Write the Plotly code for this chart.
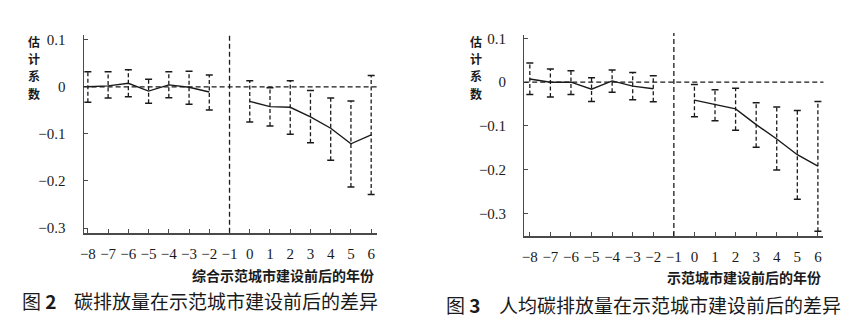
import plotly.graph_objects as go

# Event-study estimates relative to the base year (-1)
years = [-8, -7, -6, -5, -4, -3, -2, 0, 1, 2, 3, 4, 5, 6]

# Fig. 2: total carbon emissions
coef_total = [0.000, 0.002, 0.0076, -0.009, 0.004, -0.001, -0.011,
              -0.031, -0.042, -0.0435, -0.064, -0.088, -0.121, -0.102]
upper_total = [0.032, 0.032, 0.036, 0.016, 0.032, 0.033, 0.025,
               0.013, -0.002, 0.013, -0.008, -0.024, -0.030, 0.024]
lower_total = [-0.033, -0.024, -0.021, -0.035, -0.023, -0.037, -0.049,
               -0.0745, -0.083, -0.101, -0.119, -0.156, -0.213, -0.229]

# Fig. 3: per-capita carbon emissions
coef_pc = [0.0075, 0.000, 0.000, -0.016, 0.003, -0.009, -0.015,
           -0.041, -0.051, -0.061, -0.097, -0.130, -0.166, -0.192]
upper_pc = [0.044, 0.030, 0.026, 0.010, 0.028, 0.022, 0.015,
            -0.005, -0.017, -0.014, -0.047, -0.057, -0.065, -0.044]
lower_pc = [-0.028, -0.034, -0.028, -0.044, -0.023, -0.040, -0.045,
            -0.079, -0.088, -0.110, -0.149, -0.201, -0.268, -0.341]

x_ticks = list(range(-8, 7))
x_ticktext = ["\u22128", "\u22127", "\u22126", "\u22125", "\u22124", "\u22123",
              "\u22122", "\u22121", "0", "1", "2", "3", "4", "5", "6"]
y_ticks = [0.1, 0, -0.1, -0.2, -0.3]
y_ticktext = ["0.1", "0", "\u22120.1", "\u22120.2", "\u22120.3"]

y_label_chars = ["估", "计", "系", "数"]
x_title_total = "综合示范城市建设前后的年份"
x_title_pc = "示范城市建设前后的年份"
caption_total = "碳排放量在示范城市建设前后的差异"
caption_pc = "人均碳排放量在示范城市建设前后的差异"

INK = "#1a1a1a"
AXIS = "#4a4a4a"
SERIF = "Times New Roman, Liberation Serif, serif"
CJK = "Noto Sans CJK SC"
DASH = "4px,2.5px"

fig = go.Figure()


def add_panel(fig, coef, upper, lower, xa, ya):
    # dashed confidence intervals
    ex, ey = [], []
    for x, lo, hi in zip(years, lower, upper):
        ex += [x, x, None]
        ey += [lo, hi, None]
    fig.add_trace(go.Scatter(x=ex, y=ey, mode="lines", xaxis=xa, yaxis=ya,
                             line=dict(color=INK, width=1.3, dash=DASH),
                             hoverinfo="skip", showlegend=False))
    # caps at both ends of each interval
    fig.add_trace(go.Scatter(x=years + years, y=upper + lower, mode="markers",
                             xaxis=xa, yaxis=ya,
                             marker=dict(symbol="line-ew", size=5,
                                         line=dict(color=INK, width=1.5)),
                             hoverinfo="skip", showlegend=False))
    # point estimates: pre-period and post-period segments
    pre = [(x, c) for x, c in zip(years, coef) if x < 0]
    post = [(x, c) for x, c in zip(years, coef) if x > -1]
    for seg in (pre, post):
        fig.add_trace(go.Scatter(x=[p[0] for p in seg], y=[p[1] for p in seg],
                                 mode="lines", xaxis=xa, yaxis=ya,
                                 line=dict(color=INK, width=1.4),
                                 showlegend=False))
    # zero reference line and base-year divider
    fig.add_shape(type="line", xref=f"{xa} domain", yref=ya,
                  x0=0, x1=1, y0=0, y1=0,
                  line=dict(color=INK, width=1.3, dash="5px,3px"))
    fig.add_shape(type="line", xref=xa, yref=f"{ya} domain",
                  x0=-1, x1=-1, y0=0, y1=1.01,
                  line=dict(color=INK, width=1.3, dash="5px,3px"))


add_panel(fig, coef_total, upper_total, lower_total, "x", "y")
add_panel(fig, coef_pc, upper_pc, lower_pc, "x2", "y2")

W, H = 856, 331


def px_x(p):
    return p / W


def px_y(p):
    return 1 - p / H


xaxis_common = dict(tickvals=x_ticks, ticktext=x_ticktext, ticks="inside",
                    ticklen=4, tickwidth=1.2, tickcolor=AXIS, showline=True,
                    linecolor=AXIS, linewidth=2.2, showgrid=False,
                    zeroline=False, ticklabelstandoff=6,
                    tickfont=dict(family=SERIF, size=15, color=INK))
yaxis_common = dict(tickvals=y_ticks, ticktext=y_ticktext, ticks="inside",
                    ticklen=4, tickwidth=1.2, tickcolor=AXIS, showline=True,
                    linecolor=AXIS, linewidth=1.3, showgrid=False,
                    zeroline=False, ticklabelstandoff=14,
                    tickfont=dict(family=SERIF, size=15, color=INK))

fig.update_layout(
    width=W, height=H,
    margin=dict(l=0, r=0, t=0, b=0),
    paper_bgcolor="white", plot_bgcolor="white",
    xaxis=dict(domain=[px_x(80), px_x(375)], range=[-8.21, 6.3],
               anchor="y", **xaxis_common),
    yaxis=dict(domain=[px_y(233.7), px_y(31.7)], range=[-0.31, 0.11],
               anchor="x", **yaxis_common),
    xaxis2=dict(domain=[px_x(522.7), px_x(823.3)], range=[-8.27, 6.27],
                anchor="y2", **xaxis_common),
    yaxis2=dict(domain=[px_y(237), px_y(31.7)], range=[-0.352, 0.108],
                anchor="x2", **yaxis_common),
)

annotations = []
# vertical y-axis labels, one character per line
for cx in (30, 474):
    for i, ch in enumerate(y_label_chars):
        annotations.append(dict(
            x=px_x(cx), y=px_y(38.5 + 17.5 * i), text=f"<b>{ch}</b>",
            xref="paper", yref="paper", showarrow=False, borderpad=0,
            xanchor="center", yanchor="middle",
            font=dict(family=CJK, size=12, color=INK)))

# x-axis titles, right-aligned with the plot areas
for x, y, t in ((374, 276.7, x_title_total), (823, 279, x_title_pc)):
    annotations.append(dict(
        x=px_x(x), y=px_y(y), text=f"<b>{t}</b>", xanchor="right",
        xref="paper", yref="paper", showarrow=False, yanchor="middle",
        font=dict(family=CJK, size=14, color=INK)))

# figure captions
cap_font = dict(family=CJK, size=19, color=INK)
captions = [
    dict(x=px_x(16), y=px_y(303), text="图 <b>2</b>", xanchor="left"),
    dict(x=px_x(68), y=px_y(303), text=caption_total, xanchor="left"),
    dict(x=px_x(442), y=px_y(307.5), text="图 <b>3</b>", xanchor="left"),
    dict(x=px_x(495), y=px_y(307.5), text=caption_pc, xanchor="left"),
]
for a in captions:
    a.update(xref="paper", yref="paper", showarrow=False, yanchor="middle",
             font=cap_font)
annotations += captions

fig.update_layout(annotations=annotations)

fig.write_html("out.html")
